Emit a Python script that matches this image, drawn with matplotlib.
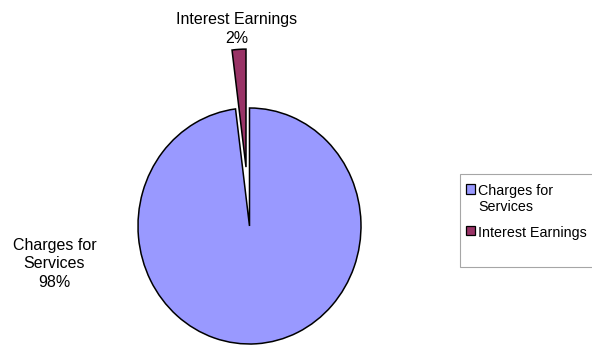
import matplotlib.pyplot as plt
from matplotlib.patches import Rectangle

labels = ['Charges for\nServices', 'Interest Earnings']
legend_labels = ['Charges for\nServices', 'Interest Earnings']
values = [98, 2]
colors = ['#9999ff', '#993366']
explode = [0, 0.5]

W, H = 592, 348
fig = plt.figure(figsize=(W / 100, H / 100), dpi=100)
# axes placed so that the pie spans the same pixels as the original
ax = fig.add_axes([138 / W, 4 / H, 223 / W, 236 / H])
wedges, _ = ax.pie(values, colors=colors, explode=explode, startangle=90,
                   counterclock=False, normalize=True,
                   wedgeprops=dict(edgecolor='black', linewidth=1.1, clip_on=False))
ax.set_aspect('auto')
ax.set_xlim(-1, 1)
ax.set_ylim(-1, 1)
ax.axis('off')

total = sum(values)
pct = ['%d%%' % round(v * 100 / total) for v in values]
font = 'Liberation Sans'
ax.text(-1.75, -0.32, labels[0] + '\n' + pct[0], ha='center', va='center',
        fontsize=11.5, family=font, linespacing=1.3, clip_on=False)
ax.text(-0.117, 1.67, labels[1] + '\n' + pct[1], ha='center', va='center',
        fontsize=11.5, family=font, linespacing=1.3, clip_on=False)

# legend frame runs off the right edge like in the original
fig.patches.append(Rectangle((460 / W, 1 - 267 / H), 150 / W, 93 / H,
                             transform=fig.transFigure, facecolor='white',
                             edgecolor='#a6a6a6', linewidth=0.8, zorder=0))

leg = fig.legend(wedges, legend_labels, loc='upper left',
                 bbox_to_anchor=(466 / W, 1 - 184 / H), frameon=False,
                 handlelength=0.65, handleheight=0.65, handletextpad=0.2,
                 borderpad=0, labelspacing=0.8, borderaxespad=0,
                 prop=dict(family=font, size=10.3))
for t in leg.get_texts():
    t.set_linespacing(1.2)
for h in leg.legend_handles:
    h.set_linewidth(0.9)
# put the marker next to the first line of a two-line label
for col in leg._legend_handle_box.get_children():
    for row in col.get_children():
        row.align = 'top'

fig.savefig('out.png', dpi=100)
